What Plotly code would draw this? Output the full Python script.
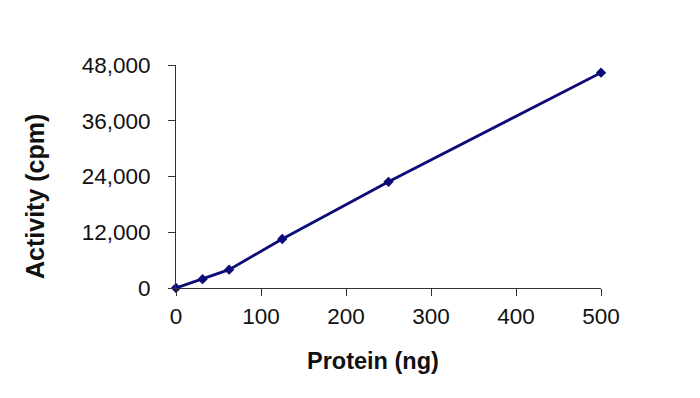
import plotly.graph_objects as go

protein_ng = [0, 31.25, 62.5, 125, 250, 500]
activity_cpm = [0, 1900, 3950, 10550, 22850, 46350]
x_ticks = [0, 100, 200, 300, 400, 500]
y_ticks = [0, 12000, 24000, 36000, 48000]
y_tick_labels = ["0", "12,000", "24,000", "36,000", "48,000"]

fig = go.Figure()
fig.add_trace(go.Scatter(
    x=protein_ng, y=activity_cpm, mode="lines+markers",
    line=dict(color="#0c0c78", width=2.8),
    marker=dict(symbol="diamond", size=8, color="#0c0c78"),
    showlegend=False, cliponaxis=False,
))

font_family = "Liberation Sans, Arial, sans-serif"
fig.update_layout(
    width=700, height=398,
    margin=dict(l=176, r=99, t=65, b=110),
    plot_bgcolor="white", paper_bgcolor="white",
    font=dict(family=font_family, size=20, color="#111"),
    xaxis=dict(range=[0, 500], tickvals=x_ticks, ticks="outside", ticklen=7,
               tickcolor="#333", showline=True, linecolor="#333", linewidth=1,
               showgrid=False, zeroline=False, ticklabelstandoff=1,
               tickfont=dict(size=22.5), automargin=False),
    yaxis=dict(range=[0, 48000], tickvals=y_ticks, ticktext=y_tick_labels,
               ticks="outside", ticklen=7, tickcolor="#333", showline=True,
               linecolor="#333", linewidth=1, showgrid=False, zeroline=False,
               ticklabelstandoff=13, tickfont=dict(size=22.5), automargin=False),
    annotations=[
        dict(text="<b>Protein (ng)</b>", x=373, y=398 - 361, xref="paper", yref="paper",
             xanchor="center", yanchor="middle",
             showarrow=False, font=dict(size=23.5)),
        dict(text="<b>Activity (cpm)</b>", x=35, y=398 - 197, xref="paper", yref="paper",
             xanchor="center", yanchor="middle",
             textangle=-90, showarrow=False, font=dict(size=25)),
    ],
)
# convert pixel positions to paper coordinates
pw = 700 - 176 - 99
ph = 398 - 65 - 110
for a in fig.layout.annotations:
    a.x = (a.x - 176) / pw
    a.y = (a.y - 110) / ph

fig.write_html("out.html", config={"displayModeBar": False},
               post_script="document.body.style.margin='0';")
